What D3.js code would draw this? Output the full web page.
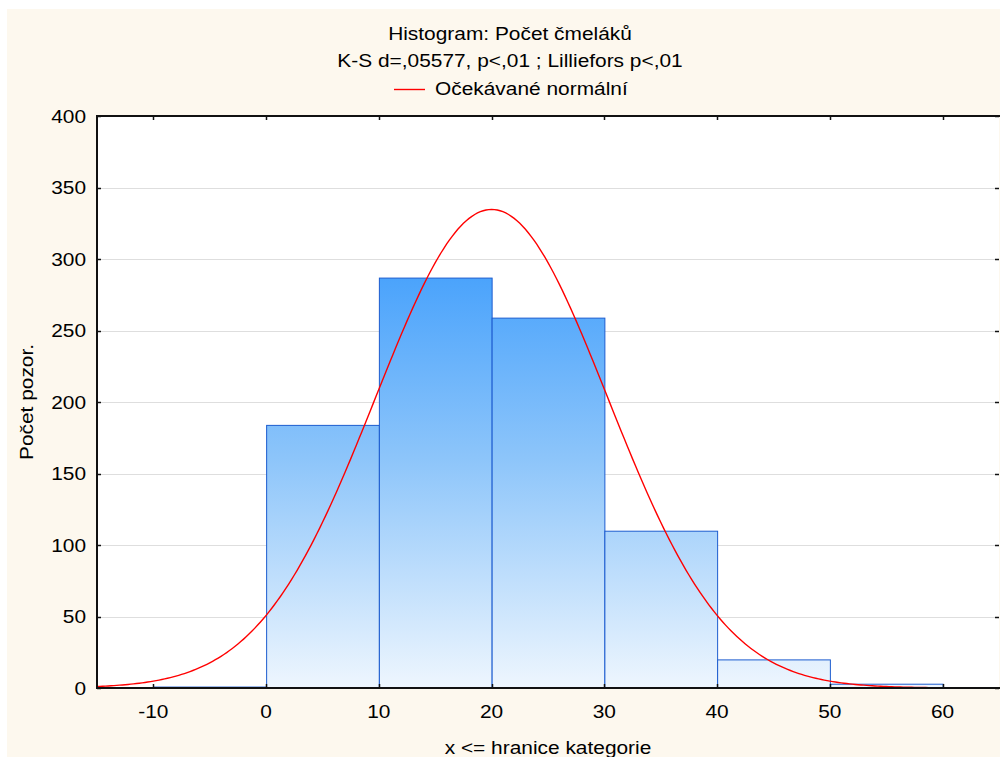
<!DOCTYPE html>
<html>
<head>
<meta charset="utf-8">
<script src="https://cdn.jsdelivr.net/npm/d3@7"></script>
<style>
  html, body { margin: 0; padding: 0; background: #ffffff; }
  svg { display: block; font-family: "Liberation Sans", Arial, sans-serif; }
</style>
</head>
<body>
<svg id="chart" width="1000" height="757"></svg>
<script>
// Histogram bins (upper bound "x <= hranice") and observed counts
const binStarts = [-10, 0, 10, 20, 30, 40, 50];
const binWidth = 10;
const counts = [1, 184, 287, 259, 110, 20, 3];

// Expected normal parameters
const normalMean = 20.0;
const normalSd = 10.3;

const xTicks = [-10, 0, 10, 20, 30, 40, 50, 60];
const yTicks = [0, 50, 100, 150, 200, 250, 300, 350, 400];

const titleLines = ["Histogram: Počet čmeláků", "K-S d=,05577, p<,01 ; Lilliefors p<,01"];
const legendLabel = "Očekávané normální";
const xLabel = "x <= hranice kategorie";
const yLabel = "Počet pozor.";

const svg = d3.select("#chart");
const W = 1000, H = 757;
const plot = { left: 97, top: 116, right: 999, bottom: 688 };
const FONT = 18.5;      // glyph height
const STRETCH = 1.13;   // wide lettering

// text helper: place at (x, y) with optional rotation, widened along the text direction
function label(g, str, px, py, anchor, rot) {
  return g.append("text")
    .attr("transform", `translate(${px},${py})${rot ? ` rotate(${rot})` : ""} scale(${STRETCH},1)`)
    .attr("text-anchor", anchor)
    .attr("font-size", FONT)
    .attr("fill", "#000")
    .text(str);
}

// panel background
svg.append("rect").attr("x", 7).attr("y", 9).attr("width", W - 7).attr("height", H - 9)
  .attr("fill", "#fdf8ee");
svg.append("rect").attr("x", plot.left).attr("y", plot.top)
  .attr("width", plot.right - plot.left).attr("height", plot.bottom - plot.top)
  .attr("fill", "#ffffff");

const x = d3.scaleLinear().domain([-15, 65]).range([plot.left, plot.right]);
const y = d3.scaleLinear().domain([0, 400]).range([plot.bottom, plot.top]);

// gradient for the bars
const defs = svg.append("defs");
const grad = defs.append("linearGradient").attr("id", "barGrad")
  .attr("gradientUnits", "userSpaceOnUse")
  .attr("x1", 0).attr("x2", 0).attr("y1", plot.top).attr("y2", plot.bottom);
[[0, "#3590fb"], [0.28, "#4aa3fc"], [0.6, "#8dc5fa"], [1, "#eef6fe"]].forEach(([o, c]) =>
  grad.append("stop").attr("offset", o).attr("stop-color", c));

// horizontal grid
svg.append("g").selectAll("line")
  .data(yTicks.filter(d => d > 0 && d < 400))
  .join("line")
  .attr("x1", plot.left).attr("x2", plot.right)
  .attr("y1", d => Math.round(y(d)) + 0.5).attr("y2", d => Math.round(y(d)) + 0.5)
  .attr("stroke", "#dedede").attr("stroke-width", 1);

// bars
const bins = binStarts.map((s, i) => ({ x0: s, x1: s + binWidth, n: counts[i] }));
svg.append("g").selectAll("rect")
  .data(bins)
  .join("rect")
  .attr("x", d => x(d.x0) + 0.5)
  .attr("y", d => y(d.n) + 0.5)
  .attr("width", d => x(d.x1) - x(d.x0))
  .attr("height", d => y(0) - y(d.n))
  .attr("fill", "url(#barGrad)")
  .attr("stroke", "#1c5ccf")
  .attr("stroke-width", 1);

// expected normal curve scaled to counts
const total = d3.sum(counts);
const density = v => total * binWidth / (normalSd * Math.sqrt(2 * Math.PI)) *
  Math.exp(-((v - normalMean) ** 2) / (2 * normalSd * normalSd));
const curvePts = d3.range(-15, 65.01, 0.25).map(v => [v, density(v)]);
svg.append("path")
  .datum(curvePts)
  .attr("fill", "none")
  .attr("stroke", "#ff0000")
  .attr("stroke-width", 1.4)
  .attr("d", d3.line().x(d => x(d[0])).y(d => y(d[1])));

// tick labels
const lab = svg.append("g");
xTicks.forEach(v => label(lab, String(v), x(v), 718, "middle"));
yTicks.forEach(v => label(lab, String(v), 86, y(v) + 6.5, "end"));

// inward tick marks on all four sides
const tickLen = 4;
const tk = svg.append("g").attr("stroke", "#111").attr("stroke-width", 1.5);
xTicks.forEach(v => {
  const px = Math.round(x(v)) + 0.5;
  tk.append("line").attr("x1", px).attr("x2", px).attr("y1", plot.bottom).attr("y2", plot.bottom - tickLen);
  tk.append("line").attr("x1", px).attr("x2", px).attr("y1", plot.top).attr("y2", plot.top + tickLen);
});
yTicks.forEach(v => {
  const py = Math.round(y(v)) + 0.5;
  tk.append("line").attr("x1", plot.left).attr("x2", plot.left + tickLen).attr("y1", py).attr("y2", py);
  tk.append("line").attr("x1", plot.right).attr("x2", plot.right - tickLen).attr("y1", py).attr("y2", py);
});

// frame
const fr = svg.append("g").attr("stroke", "#111").attr("stroke-width", 2).attr("fill", "none");
fr.append("line").attr("x1", plot.left).attr("x2", plot.right + 1).attr("y1", plot.top).attr("y2", plot.top);
fr.append("line").attr("x1", plot.left).attr("x2", plot.right + 1).attr("y1", plot.bottom).attr("y2", plot.bottom);
fr.append("line").attr("x1", plot.left).attr("x2", plot.left).attr("y1", plot.top - 1).attr("y2", plot.bottom + 1);

// titles
const head = svg.append("g");
titleLines.forEach((t, i) => label(head, t, 510, 40 + i * 27, "middle"));

// legend
const leg = svg.append("g");
leg.append("line").attr("x1", 394).attr("x2", 425).attr("y1", 89.5).attr("y2", 89.5)
  .attr("stroke", "#ff0000").attr("stroke-width", 1.4);
label(leg, legendLabel, 435, 95, "start");

// axis titles
label(svg, xLabel, (plot.left + plot.right) / 2, 754, "middle");
label(svg, yLabel, 33, (plot.top + plot.bottom) / 2, "middle", -90);
</script>
</body>
</html>
